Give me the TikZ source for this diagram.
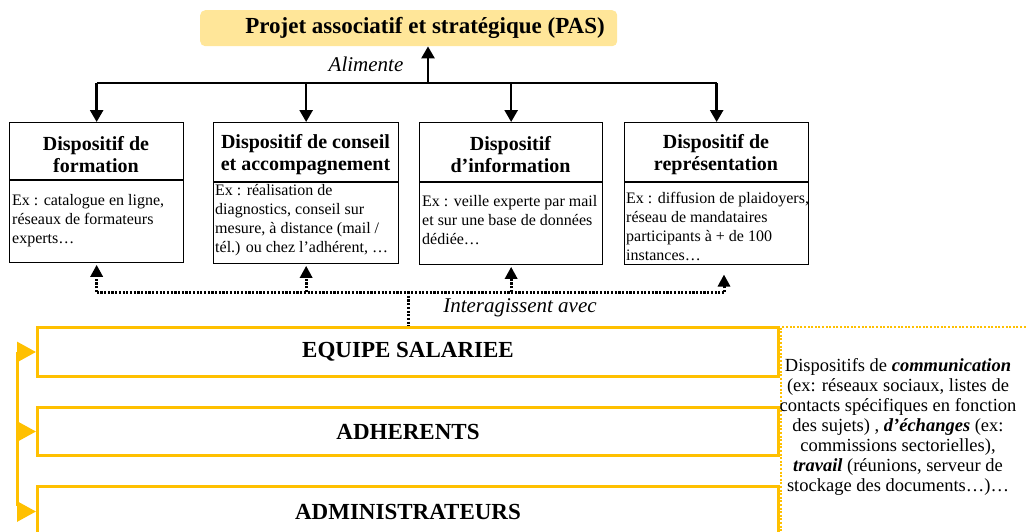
\documentclass[tikz,border=0pt]{standalone}
\usepackage{fontspec}
\setmainfont{Liberation Serif}
\usetikzlibrary{arrows.meta}
\definecolor{padfill}{HTML}{FFE699}
\definecolor{gold}{HTML}{FFC000}
\begin{document}
\begin{tikzpicture}[x=1pt,y=-1pt,
  pasbox/.style={fill=padfill, rounded corners=5pt, inner sep=0pt, anchor=north west},
  titlefont/.style={font=\fontsize{23}{26}\selectfont\bfseries, inner sep=0pt},
  dbox/.style={draw=black, line width=1.3pt, inner sep=0pt, anchor=north west},
  divthin/.style={draw=black, line width=1.2pt},
  divthick/.style={draw=black, line width=2.2pt},
  head/.style={font=\fontsize{20}{22}\selectfont\bfseries, align=center, inner sep=0pt},
  body/.style={font=\fontsize{16}{19}\selectfont, align=left, anchor=north west, inner sep=0pt},
  solidline/.style={line width=2.6pt},
  solidarrow/.style={line width=2.6pt, -{Triangle[length=12pt,width=13pt]}},
  dotline/.style={line width=3pt, dash pattern=on 2.2pt off 1.5pt},
  dotarrow/.style={dotline, shorten >=1.5pt, -{Triangle[length=12pt,width=12pt]}},
  ital/.style={font=\fontsize{21}{24}\selectfont\itshape, inner sep=0pt},
  gbox/.style={draw=gold, line width=3pt, inner sep=0pt, anchor=north west, minimum width=741pt,
     font=\fontsize{23}{26}\selectfont\bfseries},
  goldline/.style={draw=gold, line width=3pt},
  goldarrow/.style={draw=gold, fill=gold, line width=3pt, -{Triangle[length=19pt,width=20pt]}},
  commbox/.style={draw=gold, line width=2.3pt, dash pattern=on 2pt off 1.6pt, inner sep=0pt, anchor=north west},
  commfont/.style={font=\fontsize{18.5}{20}\selectfont, align=center, inner sep=0pt}
]
\useasboundingbox (0,0) rectangle (1027,531);

% top project box
\node[pasbox, minimum width=417pt, minimum height=36pt] (pas) at (200,10) {};
\node[titlefont] (pastitle) at (425,28) {Projet associatif et stratégique (PAS)};

% dispositif boxes
\node[dbox, minimum width=174pt, minimum height=140pt] (b1) at (9,122) {};
\node[dbox, minimum width=185pt, minimum height=141pt] (b2) at (213,122) {};
\node[dbox, minimum width=183pt, minimum height=142pt] (b3) at (419,122) {};
\node[dbox, minimum width=184pt, minimum height=142pt] (b4) at (624,122) {};
\draw[divthin] (9,180) -- (183,180);
\draw[divthick] (213,182) -- (398,182);
\draw[divthick] (419,182) -- (602,182);
\draw[divthick] (624,182) -- (808,182);

\node[head] (h1) at (96,155) {Dispositif de\\formation};
\node[head] (h2) at (305.5,155) {Dispositif de conseil\\et accompagnement};
\node[head] (h3) at (510.5,155) {Dispositif\\d’information};
\node[head] (h4) at (716,155) {Dispositif de\\représentation};

\node[body] (t1) at (12,194) {Ex : catalogue en ligne,\\réseaux de formateurs\\experts…};
\node[body] (t2) at (215,184) {Ex : réalisation de\\diagnostics, conseil sur\\mesure, à distance (mail /\\tél.) ou chez l’adhérent, …};
\node[body] (t3) at (422,195) {Ex : veille experte par mail\\et sur une base de données\\dédiée…};
\node[body] (t4) at (626,192) {Ex : diffusion de plaidoyers,\\réseau de mandataires\\participants à + de 100\\instances…};

% feeding arrows
\coordinate (trunk) at (428,83);
\draw[solidline] (b1.north |- trunk) -- (b4.north |- trunk);
\draw[solidarrow] (trunk) -- (trunk |- pas.south);
\draw[solidarrow] (b1.north |- trunk) -- (b1.north);
\draw[solidarrow] (b2.north |- trunk) -- (b2.north);
\draw[solidarrow] (b3.north |- trunk) -- (b3.north);
\draw[solidarrow] (b4.north |- trunk) -- (b4.north);
\node[ital] (alim) at (366,64) {Alimente};

% people boxes
\node[gbox, minimum height=49pt] (eq) at (36,326) {EQUIPE SALARIEE};
\node[gbox, minimum height=48pt] (adh) at (36,406) {ADHERENTS};
\node[gbox, minimum height=50pt] (adm) at (36,485) {ADMINISTRATEURS};

% interaction arrows
\coordinate (dl) at (407,292);
\coordinate (dr) at (724,292);
\coordinate (a4) at (724,273);
\draw[dotline] (b1.south |- dl) -- (dr);
\draw[dotarrow] (b1.south |- dl) -- (b1.south);
\draw[dotarrow] (b2.south |- dl) -- (b2.south);
\draw[dotarrow] (b3.south |- dl) -- (b3.south);
\draw[dotarrow] (dr) -- (a4);
\draw[dotline] (eq.north |- dl) -- (eq.north);
\node[ital] (inter) at (520,308) {Interagissent avec};

% left bracket
\coordinate (lbx) at (17,0);
\draw[goldline] (eq.west -| lbx) -- ([yshift=6pt]adm.west -| lbx);
\draw[goldarrow] (eq.west -| lbx) -- (eq.west);
\draw[goldarrow] (adh.west -| lbx) -- (adh.west);
\draw[goldarrow] (adm.west -| lbx) -- (adm.west);

% communication area
\node[commbox, minimum width=270pt, minimum height=230pt] (comm) at (780,326) {};
\node[commfont] (commtext) at (898,427) {Dispositifs de \textbf{\textit{communication}}\\(ex: réseaux sociaux, listes de\\contacts spécifiques en fonction\\des sujets) , \textbf{\textit{d’échanges}} (ex:\\commissions sectorielles),\\\textbf{\textit{travail}} (réunions, serveur de\\stockage des documents…)…};
\end{tikzpicture}
\end{document}
